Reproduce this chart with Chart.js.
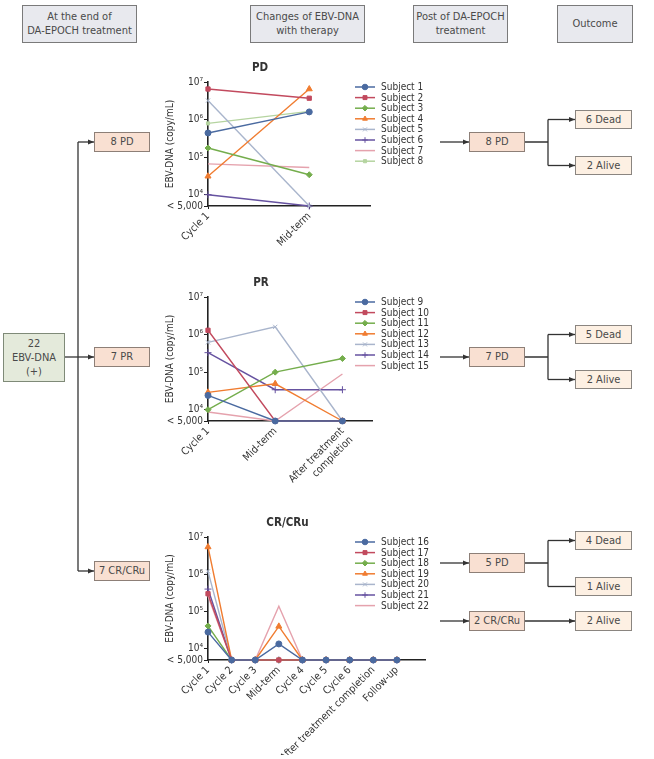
<!DOCTYPE html>
<html lang="en">
<head>
<meta charset="UTF-8" />
<title>EBV-DNA after DA-EPOCH</title>
<script src="https://cdn.jsdelivr.net/npm/chart.js"></script>
<style>
  body { margin: 0; background: #fff; }
  #fig { position: relative; width: 654px; height: 759px; overflow: hidden;
         font-family: "DejaVu Sans Condensed", "Liberation Sans Narrow", sans-serif; color: #4a4a4a; }
  .box { position: absolute; box-sizing: border-box; display: flex; align-items: center;
         justify-content: center; text-align: center; font-size: 11px; line-height: 14px; }
  .head { background: #e8e9ee; border: 1px solid #7a7a7a; }
  .resp { background: #f9e0d2; border: 1px solid #8d7f77; }
  .out  { background: #fdf0e3; border: 1px solid #8a8580; }
  .root { background: #e4eadb; border: 1px solid #7f8a78; }
  canvas { position: absolute; }
  svg { position: absolute; left: 0; top: 0; }
</style>
</head>
<body>
<div id="fig">
  <div class="box head" style="left:22px;top:5px;width:115px;height:38px;">At the end of<br>DA-EPOCH treatment</div>
  <div class="box head" style="left:250px;top:5px;width:115px;height:38px;">Changes of EBV-DNA<br>with therapy</div>
  <div class="box head" style="left:413px;top:5px;width:95px;height:38px;">Post of DA-EPOCH<br>treatment</div>
  <div class="box head" style="left:557px;top:5px;width:76px;height:38px;">Outcome</div>

  <div class="box root" style="left:3px;top:333px;width:62px;height:49px;">22<br>EBV-DNA<br>(+)</div>
  <div class="box resp" style="left:94px;top:132px;width:56px;height:20px;">8 PD</div>
  <div class="box resp" style="left:94px;top:347px;width:56px;height:20px;">7 PR</div>
  <div class="box resp" style="left:94px;top:561px;width:56px;height:20px;">7 CR/CRu</div>

  <div class="box resp" style="left:469px;top:132px;width:56px;height:20px;">8 PD</div>
  <div class="box resp" style="left:469px;top:347px;width:56px;height:20px;">7 PD</div>
  <div class="box resp" style="left:469px;top:553px;width:56px;height:20px;">5 PD</div>
  <div class="box resp" style="left:469px;top:611px;width:56px;height:20px;">2 CR/CRu</div>

  <div class="box out" style="left:575px;top:110px;width:57px;height:19px;">6 Dead</div>
  <div class="box out" style="left:575px;top:156px;width:57px;height:19px;">2 Alive</div>
  <div class="box out" style="left:575px;top:325px;width:57px;height:19px;">5 Dead</div>
  <div class="box out" style="left:575px;top:370px;width:57px;height:19px;">2 Alive</div>
  <div class="box out" style="left:575px;top:531px;width:57px;height:19px;">4 Dead</div>
  <div class="box out" style="left:575px;top:577px;width:57px;height:19px;">1 Alive</div>
  <div class="box out" style="left:575px;top:611px;width:57px;height:20px;">2 Alive</div>

  <svg width="654" height="759">
    <defs>
      <marker id="ah" markerWidth="6" markerHeight="6" refX="6" refY="3" orient="auto" markerUnits="userSpaceOnUse">
        <path d="M0,0.5 L6,3 L0,5.5 z" fill="#333"/>
      </marker>
    </defs>
    <g stroke="#333" stroke-width="1.3" fill="none">
      <path d="M78,142 V571"/>
      <path d="M78,142 H94" marker-end="url(#ah)"/>
      <path d="M78,571 H94" marker-end="url(#ah)"/>
      <path d="M65,357 H94" marker-end="url(#ah)"/>

      <path d="M440,142 H469" marker-end="url(#ah)"/>
      <path d="M525,142 H548 M548,119.5 V165.5"/>
      <path d="M548,119.5 H575" marker-end="url(#ah)"/>
      <path d="M548,165.5 H575" marker-end="url(#ah)"/>

      <path d="M440,357 H469" marker-end="url(#ah)"/>
      <path d="M525,357 H548 M548,334.5 V379.5"/>
      <path d="M548,334.5 H575" marker-end="url(#ah)"/>
      <path d="M548,379.5 H575" marker-end="url(#ah)"/>

      <path d="M440,563 H469" marker-end="url(#ah)"/>
      <path d="M525,563 H548 M548,540.5 V586.5"/>
      <path d="M548,540.5 H575" marker-end="url(#ah)"/>
      <path d="M548,586.5 H575"/>

      <path d="M440,621 H469" marker-end="url(#ah)"/>
      <path d="M525,621 H575" marker-end="url(#ah)"/>
    </g>
  </svg>

  <canvas id="pdChart" width="316" height="215" style="left:150px;top:55px;"></canvas>
  <canvas id="prChart" width="316" height="226" style="left:150px;top:270px;"></canvas>
  <canvas id="crChart" width="316" height="245" style="left:150px;top:510px;"></canvas>
</div>

<script>
  // ---- data (copy/mL, "< 5,000" plotted at 5000) ----
  const pdCategories = ['Cycle 1', 'Mid-term'];
  const pdSubjects = ['Subject 1', 'Subject 2', 'Subject 3', 'Subject 4',
                      'Subject 5', 'Subject 6', 'Subject 7', 'Subject 8'];
  const pdValues = [
    [4.4e5, 1.6e6],
    [6.5e6, 3.7e6],
    [1.75e5, 3.4e4],
    [3.1e4, 6.5e6],
    [3.2e6, 5000],
    [1.0e4, 5000],
    [6.6e4, 5.3e4],
    [7.9e5, 1.65e6]
  ];

  const prCategories = ['Cycle 1', 'Mid-term', ['After treatment', 'completion']];
  const prSubjects = ['Subject 9', 'Subject 10', 'Subject 11', 'Subject 12',
                      'Subject 13', 'Subject 14', 'Subject 15'];
  const prValues = [
    [2.4e4, 5000, 5000],
    [1.3e6, 5000, 5000],
    [1.0e4, 1.0e5, 2.3e5],
    [2.9e4, 4.9e4, 5000],
    [6.2e5, 1.6e6, 5000],
    [3.3e5, 3.4e4, 3.4e4],
    [8.7e3, 5000, 8.9e4]
  ];

  const crCategories = ['Cycle 1', 'Cycle 2', 'Cycle 3', 'Mid-term', 'Cycle 4',
                        'Cycle 5', 'Cycle 6', 'After treatment completion', 'Follow-up'];
  const crSubjects = ['Subject 16', 'Subject 17', 'Subject 18', 'Subject 19',
                      'Subject 20', 'Subject 21', 'Subject 22'];
  const crValues = [
    [2.8e4, 5000, 5000, 1.35e4, 5000, 5000, 5000, 5000, 5000],
    [3.0e5, 5000, 5000, 5000, 5000, 5000, 5000, 5000, 5000],
    [4.1e4, 5000, 5000, 5000, 5000, 5000, 5000, 5000, 5000],
    [5.4e6, 5000, 5000, 4.0e4, 5000, 5000, 5000, 5000, 5000],
    [1.2e6, 5000, 5000, 5000, 5000, 5000, 5000, 5000, 5000],
    [4.0e5, 5000, 5000, 5000, 5000, 5000, 5000, 5000, 5000],
    [2.6e5, 5000, 5000, 1.38e5, 5000, 5000, 5000, 5000, 5000]
  ];

  const yTickValues = [5000, 1e4, 1e5, 1e6, 1e7];
  const yTickLabels = ['< 5,000', '10\u2074', '10\u2075', '10\u2076', '10\u2077'];

  const seriesColors = ['#4a6aa0', '#c24a5e', '#74ad4c', '#f07c30',
                        '#a9b5cc', '#6652a0', '#e5a2ad', '#b5d4a0'];
  const seriesMarkers = ['circle', 'rect', 'rectRot', 'triangle', 'crossRot', 'cross', null, 'rect'];
  const markerSizes = [3, 3, 3, 3.5, 3, 3.5, 0, 2.2];

  const FONT = '"DejaVu Sans Condensed", "Liberation Sans Narrow", sans-serif';

  // legend drawn beside the plot, overlapping the empty right part of the axis
  const sideLegend = {
    id: 'sideLegend',
    afterDraw(chart) {
      const { ctx, chartArea } = chart;
      const x0 = chartArea.left + 147;
      ctx.save();
      ctx.font = '10px ' + FONT;
      ctx.textBaseline = 'middle';
      chart.data.datasets.forEach((ds, i) => {
        const y = chartArea.top + 5 + i * 10.6;
        ctx.strokeStyle = ds.borderColor;
        ctx.fillStyle = ds.borderColor;
        ctx.lineWidth = 1.5;
        ctx.beginPath();
        ctx.moveTo(x0, y);
        ctx.lineTo(x0 + 20, y);
        ctx.stroke();
        if (ds.pointRadius > 0) {
          ctx.lineWidth = 1;
          Chart.helpers.drawPoint(ctx, { pointStyle: ds.pointStyle, radius: Math.min(ds.pointRadius, 2.8), borderWidth: 1, rotation: 0 }, x0 + 10, y);
        }
        ctx.fillStyle = '#333';
        ctx.fillText(ds.label, x0 + 26, y + 0.5);
      });
      ctx.restore();
    }
  };

  function makeChart(id, title, categories, subjects, values, xMax, rightPad, xAxisHeight) {
    const datasets = values.map((row, i) => ({
      label: subjects[i],
      data: row.map((v, j) => ({ x: j, y: v })),
      borderColor: seriesColors[i],
      backgroundColor: seriesColors[i],
      borderWidth: 1.4,
      pointStyle: seriesMarkers[i] || 'circle',
      pointRadius: markerSizes[i],
      pointBorderWidth: 1,
      tension: 0,
      clip: false
    }));

    return new Chart(document.getElementById(id), {
      type: 'line',
      data: { datasets },
      plugins: [sideLegend],
      options: {
        responsive: false,
        animation: false,
        layout: { padding: { left: 0, right: rightPad, top: 0, bottom: 0 } },
        plugins: {
          legend: { display: false },
          tooltip: { enabled: false },
          title: {
            display: true, text: title, color: '#333',
            font: { family: FONT, size: 11.5, weight: 'bold' },
            padding: { top: 6, bottom: 7.2 }
          }
        },
        scales: {
          x: {
            type: 'linear', min: 0, max: xMax,
            afterBuildTicks: s => { s.ticks = categories.map((_, i) => ({ value: i })); },
            afterFit: s => { s.height = xAxisHeight; },
            ticks: {
              autoSkip: false, minRotation: 45, maxRotation: 45, padding: 1,
              color: '#333', font: { family: FONT, size: 10.5 },
              callback: v => categories[v]
            },
            grid: { drawOnChartArea: false, drawTicks: true, tickLength: 3, color: '#222' },
            border: { display: true, color: '#222', width: 1.6 }
          },
          y: {
            type: 'logarithmic', min: 5000, max: 1e7,
            afterBuildTicks: s => { s.ticks = yTickValues.map(v => ({ value: v })); },
            afterFit: s => { s.width = 58; },
            ticks: {
              padding: 1, color: '#333', font: { family: FONT, size: 10 },
              callback: v => yTickLabels[yTickValues.indexOf(v)]
            },
            title: {
              display: true, text: 'EBV-DNA (copy/mL)', color: '#333',
              font: { family: FONT, size: 10 },
              padding: { top: 14, bottom: 0 }
            },
            grid: { drawOnChartArea: false, drawTicks: true, tickLength: 4, color: '#222' },
            border: { display: true, color: '#222', width: 1.6 }
          }
        }
      }
    });
  }

  makeChart('pdChart', 'PD', pdCategories, pdSubjects, pdValues, 1.6, 96, 64);
  makeChart('prChart', 'PR', prCategories, prSubjects, prValues, 2.44, 94, 75);
  makeChart('crChart', 'CR/CRu', crCategories, crSubjects, crValues, 9.19, 41, 95);
</script>
</body>
</html>
